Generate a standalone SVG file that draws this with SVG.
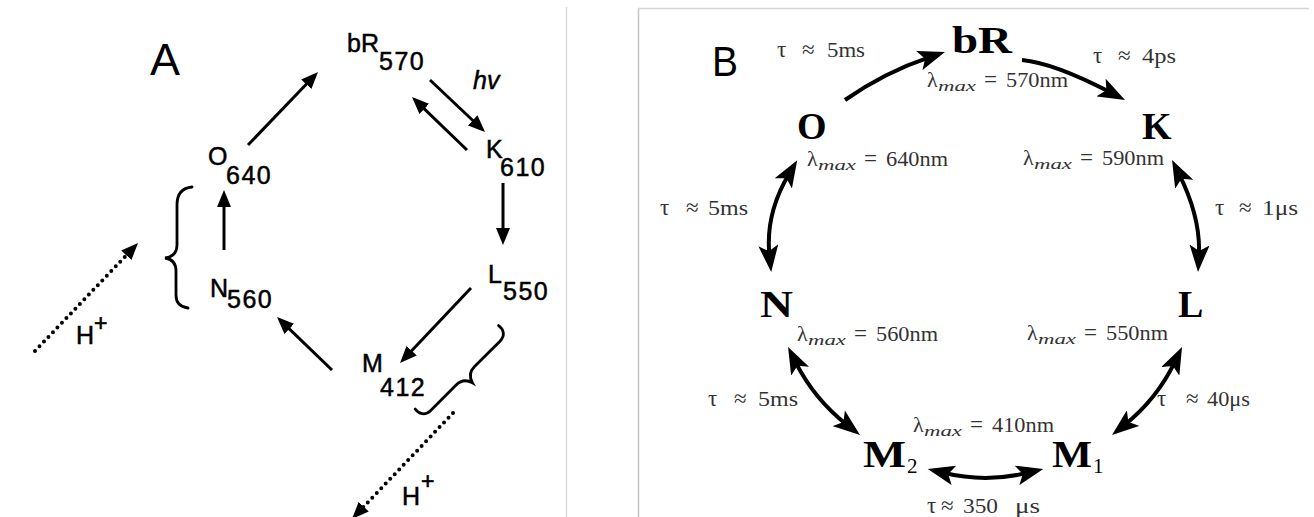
<svg xmlns="http://www.w3.org/2000/svg" width="1314" height="517" viewBox="0 0 1314 517">
<style>
.sa{font-family:"Liberation Sans",Arial,sans-serif;font-size:25px;fill:#000;stroke:#000;stroke-width:0.5}
.sup{font-family:"Liberation Sans",Arial,sans-serif;font-size:23px;fill:#000;stroke:#000;stroke-width:0.6}
.sub{letter-spacing:1.5px}
.pl{font-family:"Liberation Sans",Arial,sans-serif;fill:#000}
.nb{font-family:"Liberation Serif","DejaVu Serif",serif;font-weight:bold;font-size:38px;fill:#000}
.ns{font-family:"Liberation Serif","DejaVu Serif",serif;font-size:21px;fill:#000}
.lb{font-family:"Liberation Serif","DejaVu Serif",serif;font-size:21px;fill:#333}
.g{font-size:23px}
.ap{font-size:22px}
.it{font-style:italic;font-size:15px}
.la{fill:none;stroke:#000;stroke-width:3}
.dot{fill:none;stroke:#000;stroke-width:4;stroke-dasharray:0 6.5;stroke-linecap:round}
.br{fill:none;stroke:#000;stroke-width:2.8;stroke-linecap:round}
.lbB{fill:none;stroke:#000;stroke-width:4}
</style>
<defs>
<marker id="ha" markerUnits="userSpaceOnUse" markerWidth="17" markerHeight="14" viewBox="0 0 17 14" refX="9" refY="7" orient="auto-start-reverse"><path d="M0,0 L17,7 L0,14 Z" fill="#000"/></marker>
<marker id="hb" markerUnits="userSpaceOnUse" markerWidth="27" markerHeight="20" viewBox="0 0 27 20" refX="11" refY="10" orient="auto-start-reverse"><path d="M0,0 L27,10 L0,20 L6,10 Z" fill="#000"/></marker>
</defs>
<rect width="1314" height="517" fill="#fff"/>
<!-- frames -->
<line x1="566.5" y1="7" x2="566.5" y2="517" stroke="#dcdcdc" stroke-width="1.5"/>
<line x1="638.5" y1="8" x2="638.5" y2="517" stroke="#c4c4c4" stroke-width="1.5"/>
<line x1="638" y1="8.5" x2="1309" y2="8.5" stroke="#d6d6d6" stroke-width="1.5"/>

<!-- Panel A -->
<text class="pl" x="150" y="75" font-size="45">A</text>
<g id="A-bR570"><text class="sa" x="347" y="52">bR</text><text class="sa sub" x="379" y="70">570</text></g>
<g id="A-K610"><text class="sa" x="486" y="158">K</text><text class="sa sub" x="500" y="176">610</text></g>
<g id="A-L550"><text class="sa" x="488" y="283">L</text><text class="sa sub" x="503" y="300">550</text></g>
<g id="A-M412"><text class="sa" x="362" y="372">M</text><text class="sa sub" x="380" y="396">412</text></g>
<g id="A-N560"><text class="sa" x="210" y="297">N</text><text class="sa sub" x="227" y="308">560</text></g>
<g id="A-O640"><text class="sa" x="208" y="165">O</text><text class="sa sub" x="226" y="184">640</text></g>
<g id="A-connectors">
<path class="la" d="M248,145 L312.5,77.8" marker-end="url(#ha)"/>
<path class="la" d="M430,80 L479.2,126.5" marker-end="url(#ha)"/>
<path class="la" d="M467,150 L417.8,102.6" marker-end="url(#ha)"/>
<path class="la" d="M503,183 L503,237" marker-end="url(#ha)"/>
<path class="la" d="M224,250 L224,198" marker-end="url(#ha)"/>
<path class="la" d="M471,288 L405.5,357.2" marker-end="url(#ha)"/>
<path class="la" d="M332,370 L282.8,322.6" marker-end="url(#ha)"/>
<path class="dot" d="M35,351 L132.5,248.8" marker-end="url(#ha)"/>
<path class="dot" d="M453,413 L357.5,513.2" marker-end="url(#ha)"/>
<path class="br" d="M192,187 C181,188 177,195 177,205 L177,245 C177,253 172,257 165,258 C172,259 176,263 176,271 L176,295 C176,303 180,307 188,308"/>
<path class="br" transform="translate(500,327) rotate(45)" d="M-2,0 C4,-1 10,2 10,10 L10,46 C10,53 13,57 20,59 C13,61 10,65 10,72 L10,108 C10,116 4,119 -2,118"/>
<text class="sa" x="473" y="89" font-style="italic">hv</text>
<text class="sa" x="76" y="344">H</text><text class="sup" x="94" y="331">+</text>
<text class="sa" x="402" y="505">H</text><text class="sup" x="421" y="489">+</text>
</g>

<!-- Panel B -->
<text class="pl" x="712" y="76" font-size="43" textLength="26" lengthAdjust="spacingAndGlyphs">B</text>
<g id="B-bR"><text class="nb" x="952" y="53" textLength="60" lengthAdjust="spacingAndGlyphs">bR</text>
<text class="lb" y="87"><tspan x="927" class="ap">λ</tspan><tspan x="938" dy="4" class="it" textLength="38" lengthAdjust="spacingAndGlyphs">max</tspan><tspan x="984" dy="-4" class="g">=</tspan><tspan x="1006" textLength="62" lengthAdjust="spacingAndGlyphs">570nm</tspan></text></g>
<g id="B-K"><text class="nb" x="1142" y="139">K</text>
<text class="lb" y="165"><tspan x="1023" class="ap">λ</tspan><tspan x="1034" dy="4" class="it" textLength="38" lengthAdjust="spacingAndGlyphs">max</tspan><tspan x="1080" dy="-4" class="g">=</tspan><tspan x="1102" textLength="62" lengthAdjust="spacingAndGlyphs">590nm</tspan></text></g>
<g id="B-L"><text class="nb" x="1178" y="317">L</text>
<text class="lb" y="340"><tspan x="1027" class="ap">λ</tspan><tspan x="1038" dy="4" class="it" textLength="38" lengthAdjust="spacingAndGlyphs">max</tspan><tspan x="1084" dy="-4" class="g">=</tspan><tspan x="1106" textLength="62" lengthAdjust="spacingAndGlyphs">550nm</tspan></text></g>
<g id="B-M1"><text class="nb" x="1052" y="467" textLength="40" lengthAdjust="spacingAndGlyphs">M</text><text class="ns" x="1093" y="473">1</text></g>
<g id="B-M2"><text class="nb" x="863" y="467" textLength="43" lengthAdjust="spacingAndGlyphs">M</text><text class="ns" x="907" y="473">2</text>
<text class="lb" y="432"><tspan x="913" class="ap">λ</tspan><tspan x="924" dy="4" class="it" textLength="38" lengthAdjust="spacingAndGlyphs">max</tspan><tspan x="970" dy="-4" class="g">=</tspan><tspan x="992" textLength="62" lengthAdjust="spacingAndGlyphs">410nm</tspan></text></g>
<g id="B-N"><text class="nb" x="760" y="317" textLength="33" lengthAdjust="spacingAndGlyphs">N</text>
<text class="lb" y="341"><tspan x="797" class="ap">λ</tspan><tspan x="808" dy="4" class="it" textLength="38" lengthAdjust="spacingAndGlyphs">max</tspan><tspan x="854" dy="-4" class="g">=</tspan><tspan x="876" textLength="62" lengthAdjust="spacingAndGlyphs">560nm</tspan></text></g>
<g id="B-O"><text class="nb" x="797" y="139">O</text>
<text class="lb" y="166"><tspan x="807" class="ap">λ</tspan><tspan x="818" dy="4" class="it" textLength="38" lengthAdjust="spacingAndGlyphs">max</tspan><tspan x="864" dy="-4" class="g">=</tspan><tspan x="886" textLength="62" lengthAdjust="spacingAndGlyphs">640nm</tspan></text></g>
<g id="B-connectors">
<path class="lbB" d="M845,100 Q885,72 929.8,57.1" marker-end="url(#hb)"/>
<path class="lbB" d="M1022,60 Q1054,63 1110.8,92.6" marker-end="url(#hb)"/>
<path class="lbB" d="M1179.2,174.3 Q1201,218 1198.9,256" marker-start="url(#hb)" marker-end="url(#hb)"/>
<path class="lbB" d="M789,174 Q765,214 769.5,256.2" marker-start="url(#hb)" marker-end="url(#hb)"/>
<path class="lbB" d="M795.2,361.3 Q814,399 847.4,425.1" marker-start="url(#hb)" marker-end="url(#hb)"/>
<path class="lbB" d="M1175.1,361.4 Q1157,399 1124.5,425" marker-start="url(#hb)" marker-end="url(#hb)"/>
<path class="lbB" d="M943.3,472.8 Q985.5,483 1027.7,472.8" marker-start="url(#hb)" marker-end="url(#hb)"/>
<text class="lb" y="57"><tspan x="777" class="g">τ</tspan><tspan x="802" class="g">≈</tspan><tspan x="827" textLength="38" lengthAdjust="spacingAndGlyphs">5ms</tspan></text>
<text class="lb" y="63"><tspan x="1093" class="g">τ</tspan><tspan x="1118" class="g">≈</tspan><tspan x="1142" textLength="34" lengthAdjust="spacingAndGlyphs">4ps</tspan></text>
<text class="lb" y="215"><tspan x="660" class="g">τ</tspan><tspan x="686" class="g">≈</tspan><tspan x="708" textLength="40" lengthAdjust="spacingAndGlyphs">5ms</tspan></text>
<text class="lb" y="215"><tspan x="1215" class="g">τ</tspan><tspan x="1239" class="g">≈</tspan><tspan x="1262" textLength="36" lengthAdjust="spacingAndGlyphs">1μs</tspan></text>
<text class="lb" y="406"><tspan x="708" class="g">τ</tspan><tspan x="734" class="g">≈</tspan><tspan x="758" textLength="40" lengthAdjust="spacingAndGlyphs">5ms</tspan></text>
<text class="lb" y="406"><tspan x="1157" class="g">τ</tspan><tspan x="1186" class="g">≈</tspan><tspan x="1207" textLength="43" lengthAdjust="spacingAndGlyphs">40μs</tspan></text>
<text class="lb" y="513"><tspan x="927" class="g">τ</tspan><tspan x="941" class="g">≈</tspan><tspan x="963" textLength="35" lengthAdjust="spacingAndGlyphs">350</tspan><tspan x="1015" textLength="25" lengthAdjust="spacingAndGlyphs">μs</tspan></text>
</g>
</svg>
